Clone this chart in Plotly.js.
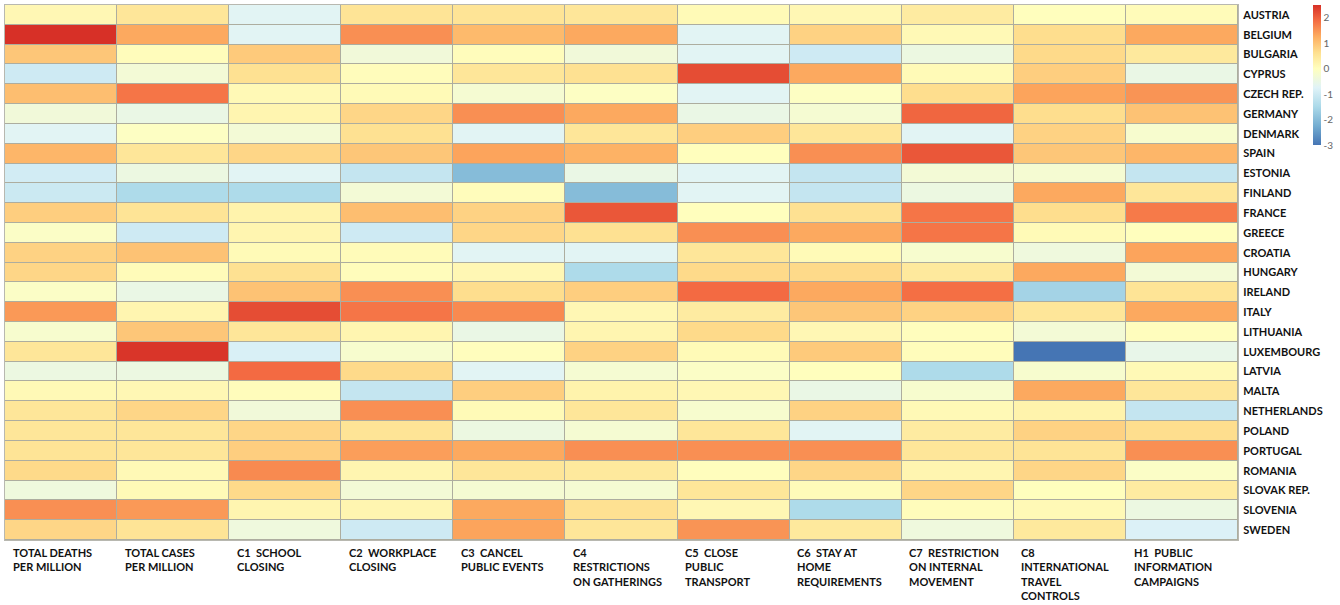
<!DOCTYPE html>
<html>
<head>
<meta charset="utf-8">
<script src="https://cdn.plot.ly/plotly-3.0.1.min.js"></script>
<style>html,body{margin:0;padding:0;background:#fff;}#chart{width:1340px;height:605px;}</style>
</head>
<body>
<div id="chart"></div>
<script>
const countries = ["AUSTRIA","BELGIUM","BULGARIA","CYPRUS","CZECH REP.","GERMANY","DENMARK","SPAIN","ESTONIA","FINLAND","FRANCE","GREECE","CROATIA","HUNGARY","IRELAND","ITALY","LITHUANIA","LUXEMBOURG","LATVIA","MALTA","NETHERLANDS","POLAND","PORTUGAL","ROMANIA","SLOVAK REP.","SLOVENIA","SWEDEN"];
const indicators = ["TOTAL DEATHS<br>PER MILLION","TOTAL CASES<br>PER MILLION","C1  SCHOOL<br>CLOSING","C2  WORKPLACE<br>CLOSING","C3  CANCEL<br>PUBLIC EVENTS","C4<br>RESTRICTIONS<br>ON GATHERINGS","C5  CLOSE<br>PUBLIC<br>TRANSPORT","C6  STAY AT<br>HOME<br>REQUIREMENTS","C7  RESTRICTION<br>ON INTERNAL<br>MOVEMENT","C8<br>INTERNATIONAL<br>TRAVEL<br>CONTROLS","H1  PUBLIC<br>INFORMATION<br>CAMPAIGNS"];
const colorbarTicks = [2, 1, 0, -1, -2, -3];
const colorbarTickText = ["2", "1", "0", "-1", "-2", "-3"];

// one array per column (indicator), values in country order
const totalDeaths  = [0.15,2.5,0.95,-1.0,1.05,-0.35,-0.7,1.15,-0.95,-1.05,0.85,-0.1,0.8,0.75,-0.1,1.45,-0.2,0.5,-0.45,0.12,0.5,0.5,0.55,0.7,-0.4,1.55,0.75];
const totalCases   = [0.5,1.3,0.05,-0.3,1.8,-0.5,-0.05,0.5,-0.45,-1.45,0.55,-1.0,1.0,0.08,-0.5,0.2,0.95,2.45,-0.45,0.15,0.75,0.5,0.5,0.12,0.1,1.45,0.55];
const c1School     = [-0.7,-0.7,0.9,0.6,0.12,0.2,-0.3,0.75,-0.7,-1.45,0.25,0.2,0.1,0.6,1.0,2.2,0.5,-0.85,1.9,0.05,-0.35,0.75,0.85,1.6,0.7,0.2,-0.4];
const c2Workplace  = [0.55,1.55,-0.35,0.05,0.1,0.75,0.6,0.95,-1.15,-0.3,1.05,-1.0,0.08,0.05,1.55,1.8,0.2,-0.2,0.7,-1.15,1.55,0.55,1.4,0.2,-0.3,0.2,-1.0];
const c3Events     = [0.55,1.1,0.05,0.5,-0.25,1.55,-0.7,1.35,-2.0,0.05,0.8,0.75,-0.7,0.15,0.65,1.6,-0.5,0.03,-0.7,0.85,0.1,-0.45,1.3,0.5,-0.25,1.3,1.35];
const c4Gatherings = [0.5,1.3,-0.35,0.6,-0.05,1.3,0.5,1.2,-0.5,-2.0,2.1,0.6,-0.7,-1.45,0.85,0.15,0.2,0.8,-0.25,0.25,0.5,-0.25,1.55,0.45,-0.25,0.6,0.5];
const c5Transport  = [0.1,-0.7,-0.7,2.2,-0.7,-0.5,0.85,0.02,-0.7,-0.7,0.02,1.55,0.5,0.7,1.9,0.4,0.7,0.1,-0.1,0.15,-0.2,0.5,1.55,0.03,0.5,0.15,1.5];
const c6StayHome   = [0.15,0.8,-1.0,1.3,-0.05,-0.25,0.5,1.55,-1.15,-1.15,0.6,1.3,0.1,0.7,1.3,0.95,0.15,0.9,0.02,-0.5,0.8,-0.7,1.55,0.75,0.08,-1.45,0.45];
const c7Internal   = [0.4,0.12,-0.45,0.1,0.65,1.95,-0.7,2.1,-0.3,-0.45,1.8,1.8,-0.2,0.45,1.85,0.8,0.03,0.05,-1.45,-0.2,0.12,0.4,0.5,0.2,0.75,0.05,-0.4];
const c8Travel     = [0.02,0.65,0.7,0.85,1.35,0.65,0.8,0.95,-0.25,1.3,0.65,0.1,-0.4,1.3,-1.6,0.5,-0.3,-3.0,-0.2,1.3,0.25,0.8,0.55,0.75,0.02,0.12,0.45];
const h1Public     = [0.08,1.3,0.45,-0.5,1.5,1.0,-0.2,1.15,-1.15,0.5,1.75,0.02,1.35,-0.3,0.55,1.3,0.03,-0.55,0.12,0.5,-1.15,0.65,1.55,-0.1,0.4,-0.45,-0.8];

const columns = [totalDeaths,totalCases,c1School,c2Workplace,c3Events,c4Gatherings,c5Transport,c6StayHome,c7Internal,c8Travel,h1Public];
const z = countries.map((c, r) => columns.map(col => col[r]));
const xIdx = indicators.map((_, i) => i);

const colorscale = [
  [0.0,'#4575b4'],[0.136,'#74add1'],[0.273,'#abd9e9'],[0.409,'#e0f3f8'],
  [0.545,'#ffffbf'],[0.659,'#fee090'],[0.773,'#fdae61'],[0.886,'#f46d43'],[1.0,'#d73027']
];

const trace = {
  type: 'heatmap',
  x: xIdx,
  y: countries,
  z: z,
  zmin: -3, zmax: 2.5,
  colorscale: colorscale,
  xgap: 1, ygap: 1,
  hoverinfo: 'skip',
  colorbar: {
    x: 1.0608, xanchor: 'left', xpad: 0,
    y: 1, yanchor: 'top', ypad: 0,
    lenmode: 'pixels', len: 140,
    thickness: 8, outlinewidth: 0,
    tickvals: colorbarTicks, ticktext: colorbarTickText, ticks: '', ticklabelpad: 5,
    tickfont: {family: 'Lato, sans-serif', size: 10, color: '#666'}
  }
};

const annotations = indicators.map((t, i) => ({
  x: i - 0.45, y: 0, xref: 'x', yref: 'paper',
  xanchor: 'left', yanchor: 'top', align: 'left', yshift: -4,
  showarrow: false, text: t,
  font: {family: 'Lato, sans-serif', size: 11, color: '#111', weight: 'bold'}
}));

const layout = {
  width: 1340, height: 605,
  margin: {l: 5, r: 102, t: 5, b: 65},
  paper_bgcolor: '#ffffff',
  plot_bgcolor: '#adad9f',
  xaxis: {range: [-0.5, indicators.length - 0.5], showticklabels: false, ticks: '', showgrid: false, zeroline: false,
          showline: true, mirror: true, linecolor: '#b8b8b0', linewidth: 1},
  yaxis: {autorange: 'reversed', side: 'right', ticks: '', showgrid: false, zeroline: false,
          showline: true, mirror: true, linecolor: '#b8b8b0', linewidth: 1, ticklabelstandoff: 2,
          tickfont: {family: 'Lato, sans-serif', size: 11, color: '#111', weight: 'bold'}},
  annotations: annotations,
  showlegend: false
};

Plotly.newPlot('chart', [trace], layout, {displayModeBar: false, staticPlot: true});
</script>
</body>
</html>
